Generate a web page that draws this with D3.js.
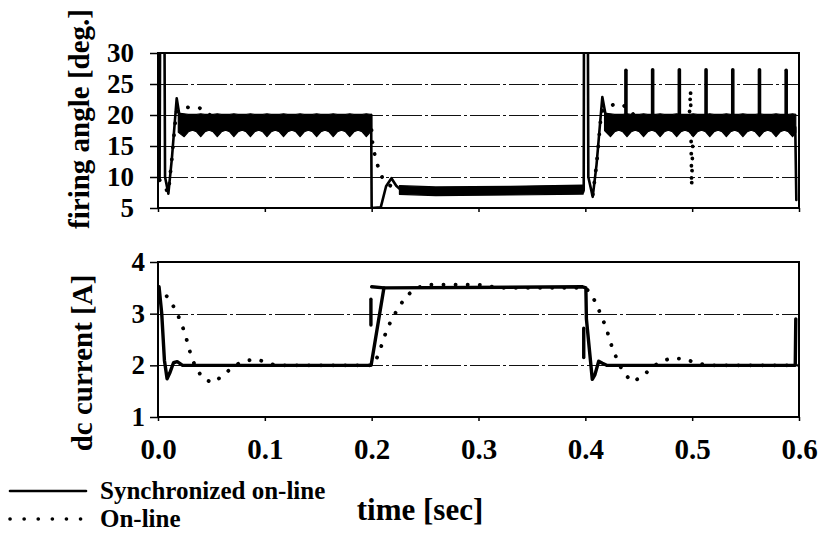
<!DOCTYPE html>
<html>
<head>
<meta charset="utf-8">
<script src="https://cdn.jsdelivr.net/npm/d3@7"></script>
<style>
  body { margin: 0; background: #fff; }
  text { font-family: "Liberation Serif", "Times New Roman", serif; font-weight: bold; fill: #000; }
</style>
</head>
<body>
<div class="chart"></div>
<script>
'use strict';

// tick values
var timeTicks = [0, 0.1, 0.2, 0.3, 0.4, 0.5, 0.6];
var angleTicks = [5, 10, 15, 20, 25, 30];
var currentTicks = [1, 2, 3, 4];

// firing angle, synchronized on-line : transient pieces [t, deg]
var syncAngleStart = [[0.0015, 9.5], [0.0022, 45], [0.0058, 45], [0.0066, 10], [0.0097, 7.3], [0.013, 13], [0.0175, 22.7], [0.0205, 19.5]];
var syncAngleDrop = [[0.1995, 20], [0.2, 5], [0.2085, 5.1], [0.2135, 8.5], [0.2185, 9.8], [0.223, 8.6], [0.228, 7.8]];
var syncAngleRise = [[0.3985, 7.9], [0.3988, 45], [0.4022, 45], [0.4028, 10], [0.4069, 6.8], [0.4105, 12], [0.4159, 22.9], [0.419, 20]];
var syncAngleEnd = [[0.5965, 18], [0.5975, 6.3]];

// ripple bands of the synchronized firing angle [t, low, high]
var syncBand1 = [[0.019, 17.2, 20.3],
  [0.0245, 16.5, 20.2], [0.0284, 17.3, 20.1], [0.0323, 17.55, 20.1], [0.0361, 17.3, 20.1],
  [0.040, 16.5, 20.2], [0.0439, 17.3, 20.1], [0.0478, 17.55, 20.1], [0.0516, 17.3, 20.1],
  [0.0555, 16.5, 20.2], [0.0594, 17.3, 20.1], [0.0633, 17.55, 20.1], [0.0671, 17.3, 20.1],
  [0.071, 16.5, 20.2], [0.0749, 17.3, 20.1], [0.0788, 17.55, 20.1], [0.0826, 17.3, 20.1],
  [0.0865, 16.5, 20.2], [0.0904, 17.3, 20.1], [0.0943, 17.55, 20.1], [0.0981, 17.3, 20.1],
  [0.102, 16.5, 20.2], [0.1059, 17.3, 20.1], [0.1098, 17.55, 20.1], [0.1136, 17.3, 20.1],
  [0.1175, 16.5, 20.2], [0.1214, 17.3, 20.1], [0.1253, 17.55, 20.1], [0.1291, 17.3, 20.1],
  [0.133, 16.5, 20.2], [0.1369, 17.3, 20.1], [0.1408, 17.55, 20.1], [0.1446, 17.3, 20.1],
  [0.1485, 16.5, 20.2], [0.1524, 17.3, 20.1], [0.1563, 17.55, 20.1], [0.1601, 17.3, 20.1],
  [0.164, 16.5, 20.2], [0.1679, 17.3, 20.1], [0.1718, 17.55, 20.1], [0.1756, 17.3, 20.1],
  [0.1795, 16.5, 20.2], [0.1834, 17.3, 20.1], [0.1873, 17.55, 20.1], [0.1911, 17.3, 20.1],
  [0.195, 16.5, 20.2], [0.1989, 17.3, 20.1], [0.2, 17.4, 20.1]];
var syncBand2 = [[0.226, 7.2, 8.6], [0.26, 7.0, 8.4], [0.33, 7.1, 8.5], [0.398, 7.25, 8.7]];
var syncBand3 = [[0.418, 17.5, 20.3],
  [0.4235, 16.5, 20.2], [0.4274, 17.3, 20.1], [0.4313, 17.55, 20.1], [0.4351, 17.3, 20.1],
  [0.439, 16.5, 20.2], [0.4429, 17.3, 20.1], [0.4468, 17.55, 20.1], [0.4506, 17.3, 20.1],
  [0.4545, 16.5, 20.2], [0.4584, 17.3, 20.1], [0.4623, 17.55, 20.1], [0.4661, 17.3, 20.1],
  [0.47, 16.5, 20.2], [0.4739, 17.3, 20.1], [0.4778, 17.55, 20.1], [0.4816, 17.3, 20.1],
  [0.4855, 16.5, 20.2], [0.4894, 17.3, 20.1], [0.4933, 17.55, 20.1], [0.4971, 17.3, 20.1],
  [0.501, 16.5, 20.2], [0.5049, 17.3, 20.1], [0.5088, 17.55, 20.1], [0.5126, 17.3, 20.1],
  [0.5165, 16.5, 20.2], [0.5204, 17.3, 20.1], [0.5243, 17.55, 20.1], [0.5281, 17.3, 20.1],
  [0.532, 16.5, 20.2], [0.5359, 17.3, 20.1], [0.5398, 17.55, 20.1], [0.5436, 17.3, 20.1],
  [0.5475, 16.5, 20.2], [0.5514, 17.3, 20.1], [0.5553, 17.55, 20.1], [0.5591, 17.3, 20.1],
  [0.563, 16.5, 20.2], [0.5669, 17.3, 20.1], [0.5708, 17.55, 20.1], [0.5746, 17.3, 20.1],
  [0.5785, 16.5, 20.2], [0.5824, 17.3, 20.1], [0.5863, 17.55, 20.1], [0.5901, 17.3, 20.1],
  [0.594, 16.5, 20.2], [0.597, 17.2, 20.1]];

// periodic spikes after the second step
var spikeTimes = [0.438, 0.463, 0.488, 0.513, 0.538, 0.563, 0.588];
var spikeTops = [27.2, 27.3, 27.3, 27.3, 27.3, 27.3, 27.2];

// firing angle, on-line
var onlineAngle = [[0.0015, 9.5], [0.0097, 7.5], [0.013, 13], [0.017, 20.5], [0.022, 21.0], [0.03, 21.3], [0.038, 21.2],
  [0.044, 20.7], [0.05, 19.8], [0.06, 18.8], [0.08, 18.5], [0.1995, 18.5], [0.2012, 14.7], [0.204, 12.9], [0.207, 11],
  [0.21, 9.9], [0.214, 9.0], [0.22, 8.3], [0.23, 7.8], [0.25, 7.7], [0.3995, 7.7], [0.4069, 7.0], [0.4105, 12],
  [0.415, 20.5], [0.42, 21.3], [0.427, 21.7], [0.433, 21.8], [0.438, 21.3], [0.444, 20.3], [0.45, 19], [0.46, 18.5],
  [0.497, 18.5], [0.4985, 24], [0.4995, 8.5], [0.501, 18.5], [0.6, 18.5]];

// dc current, synchronized on-line [t, A]
var syncCurrent = [[0.001, 3.52], [0.0035, 3.0], [0.006, 2.1], [0.0085, 1.74], [0.011, 1.85], [0.0145, 2.05], [0.018, 2.07],
  [0.023, 2.0], [0.1995, 2.0], [0.2115, 3.5], [0.3975, 3.52], [0.4005, 3.5], [0.401, 2.9], [0.4065, 1.73], [0.409, 1.82],
  [0.4125, 2.08], [0.416, 2.04], [0.42, 2.0], [0.5965, 2.0], [0.597, 2.9]];
var syncCurrentDashes = [
  [[0.1993, 2.78], [0.1993, 3.28]],
  [[0.2, 3.52], [0.2115, 3.5]],
  [[0.3985, 2.15], [0.3985, 2.72]]
];

// dc current, on-line
var onlineCurrent = [[0.0, 3.5], [0.005, 3.42], [0.0096, 3.3], [0.016, 3.09], [0.021, 2.86], [0.025, 2.63], [0.028, 2.41],
  [0.031, 2.18], [0.0355, 1.95], [0.042, 1.75], [0.051, 1.66], [0.06, 1.79], [0.069, 1.95], [0.078, 2.07], [0.091, 2.12],
  [0.1, 2.07], [0.11, 2.0], [0.2, 2.0], [0.203, 2.05], [0.206, 2.2], [0.21, 2.43], [0.214, 2.68], [0.219, 2.9], [0.225, 3.11],
  [0.232, 3.33], [0.24, 3.47], [0.25, 3.56], [0.3, 3.56], [0.32, 3.5], [0.4, 3.5], [0.404, 3.42], [0.411, 3.17], [0.415, 2.94],
  [0.42, 2.72], [0.422, 2.53], [0.426, 2.3], [0.431, 2.05], [0.436, 1.85], [0.444, 1.68], [0.453, 1.78], [0.462, 1.95],
  [0.47, 2.07], [0.481, 2.14], [0.494, 2.12], [0.505, 2.03], [0.52, 2.0], [0.6, 2.0]];

var legendLabels = ["Synchronized on-line", "On-line"];

var width = 818, height = 536;
var left = 158, right = 799;

var svg = d3.select(".chart")
            .append("svg")
            .attr("width", width)
            .attr("height", height);

var x = d3.scaleLinear().domain([0, 0.6]).range([left, right]);
var yAngle = d3.scaleLinear().domain([5, 30]).range([208, 53]);
var yCurrent = d3.scaleLinear().domain([1, 4]).range([417, 262]);

// draws one panel: gridlines, frame, ticks
function panel(id, y, ticks, labelPad, showX) {
      var g = svg.append("g");
      var r = y.range();

      g.append("clipPath").attr("id", id)
       .append("rect")
       .attr("x", left).attr("y", r[1])
       .attr("width", right - left).attr("height", r[0] - r[1]);

      // gridlines
      g.selectAll("line.grid")
       .data(ticks.slice(1, -1))
       .enter().append("line")
       .attr("class", "grid")
       .attr("x1", left).attr("x2", right)
       .attr("y1", function(d){ return Math.round(y(d)) + 0.5; })
       .attr("y2", function(d){ return Math.round(y(d)) + 0.5; })
       .attr("stroke", "#111")
       .attr("stroke-width", 1.2)
       .attr("stroke-dasharray", "30,3,3,3");

      // left axis with outward ticks
      var ax = g.append("g")
                .attr("transform", "translate(" + left + ",0)")
                .call(d3.axisLeft(y).tickValues(ticks).tickSize(8).tickPadding(labelPad).tickFormat(d3.format("d")));
      ax.select(".domain").remove();
      ax.selectAll("line").attr("stroke", "#000").attr("stroke-width", 1.5);
      ax.selectAll("text").attr("font-size", 27).style("font-family", null);

      // time axis ticks
      var bx = g.append("g")
                .attr("transform", "translate(0," + r[0] + ")")
                .call(d3.axisBottom(x).tickValues(timeTicks).tickSize(4).tickPadding(17)
                        .tickFormat(showX ? d3.format(".1f") : ""));
      bx.select(".domain").remove();
      bx.selectAll("line").attr("stroke", "#000").attr("stroke-width", 1.5);
      bx.selectAll("text").attr("font-size", 29).style("font-family", null);

      // frame
      g.append("rect")
       .attr("x", left).attr("y", r[1])
       .attr("width", right - left).attr("height", r[0] - r[1])
       .attr("fill", "none")
       .attr("stroke", "#000")
       .attr("stroke-width", 2);

      return g.append("g").attr("clip-path", "url(#" + id + ")");
}

var anglePanel = panel("clipTop", yAngle, angleTicks, 16, false);
var currentPanel = panel("clipBot", yCurrent, currentTicks, 5, true);

function solid(g, y, data, w) {
      var line = d3.line().x(function(d){ return x(d[0]); }).y(function(d){ return y(d[1]); });
      g.append("path")
       .attr("d", line(data))
       .attr("fill", "none")
       .attr("stroke", "#000")
       .attr("stroke-width", w || 3)
       .attr("stroke-linejoin", "round")
       .attr("stroke-linecap", "round");
}

function dotted(g, y, data) {
      var line = d3.line().x(function(d){ return x(d[0]); }).y(function(d){ return y(d[1]); });
      g.append("path")
       .attr("d", line(data))
       .attr("fill", "none")
       .attr("stroke", "#000")
       .attr("stroke-width", 3.8)
       .attr("stroke-linecap", "round")
       .attr("stroke-dasharray", "0.1,12");
}

function band(g, y, data) {
      var area = d3.area()
                   .x(function(d){ return x(d[0]); })
                   .y0(function(d){ return y(d[1]); })
                   .y1(function(d){ return y(d[2]); });
      g.append("path")
       .attr("d", area(data))
       .attr("fill", "#000")
       .attr("stroke", "#000")
       .attr("stroke-width", 1.2)
       .attr("stroke-linejoin", "round");
}

/* firing angle panel */
dotted(anglePanel, yAngle, onlineAngle);
band(anglePanel, yAngle, syncBand1);
band(anglePanel, yAngle, syncBand2);
band(anglePanel, yAngle, syncBand3);
[syncAngleStart, syncAngleDrop, syncAngleRise, syncAngleEnd].forEach(function(d){ solid(anglePanel, yAngle, d, 2.6); });

anglePanel.selectAll("line.spike")
   .data(spikeTimes)
   .enter().append("line")
   .attr("class", "spike")
   .attr("x1", function(d){ return x(d); })
   .attr("x2", function(d){ return x(d); })
   .attr("y1", yAngle(19.5))
   .attr("y2", function(d, i){ return yAngle(spikeTops[i]); })
   .attr("stroke", "#000")
   .attr("stroke-width", 3.6)
   .attr("stroke-linecap", "round");

/* dc current panel */
dotted(currentPanel, yCurrent, onlineCurrent);
solid(currentPanel, yCurrent, syncCurrent, 3.4);
syncCurrentDashes.forEach(function(d){ solid(currentPanel, yCurrent, d, 3.4); });

// axis titles
svg.append("text")
   .attr("transform", "translate(89,119) rotate(-90)")
   .attr("text-anchor", "middle")
   .attr("font-size", 29)
   .text("firing angle [deg.]");

svg.append("text")
   .attr("transform", "translate(92,363) rotate(-90)")
   .attr("text-anchor", "middle")
   .attr("font-size", 29)
   .text("dc current [A]");

svg.append("text")
   .attr("x", 420).attr("y", 520)
   .attr("text-anchor", "middle")
   .attr("font-size", 31)
   .text("time [sec]");

// legend
var legend = svg.append("g");
legend.selectAll("line")
      .data(legendLabels)
      .enter().append("line")
      .attr("x1", 10).attr("x2", 86)
      .attr("y1", function(d, i){ return 491 + i * 28; })
      .attr("y2", function(d, i){ return 491 + i * 28; })
      .attr("stroke", "#000")
      .attr("stroke-width", function(d, i){ return i ? 3.6 : 2.6; })
      .attr("stroke-linecap", "round")
      .attr("stroke-dasharray", function(d, i){ return i ? "0.1,14" : null; });

legend.selectAll("text")
      .data(legendLabels)
      .enter().append("text")
      .attr("x", 100)
      .attr("y", function(d, i){ return 499 + i * 28; })
      .attr("font-size", 25)
      .text(function(d){ return d; });
</script>
</body>
</html>
